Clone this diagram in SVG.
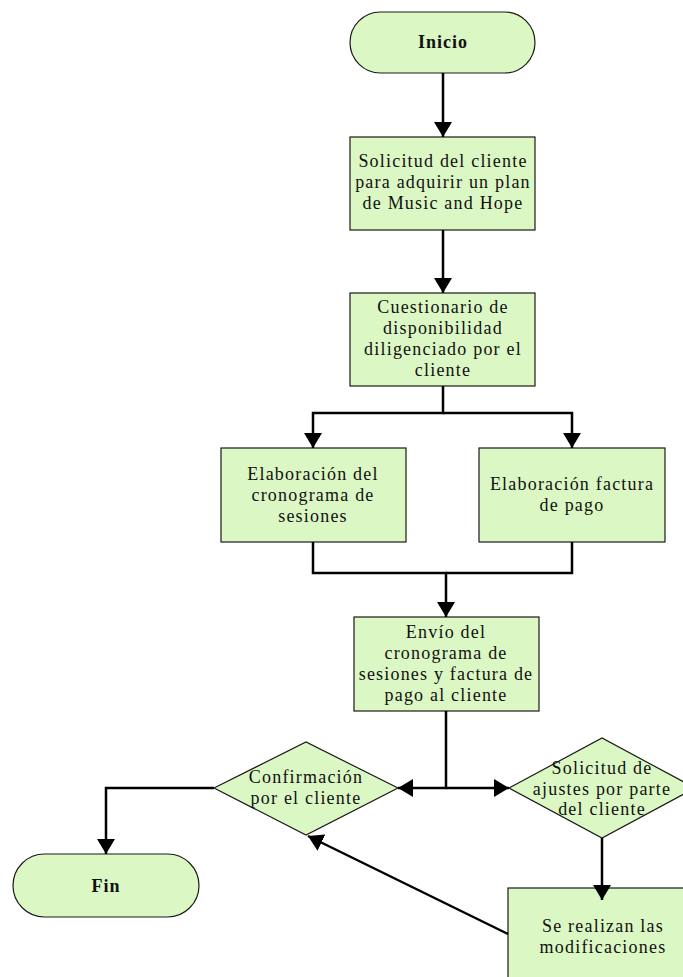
<svg xmlns="http://www.w3.org/2000/svg" width="683" height="977" viewBox="0 0 683 977">
<defs>
<marker id="ah" markerUnits="userSpaceOnUse" markerWidth="16" markerHeight="18" refX="15" refY="9" orient="auto">
<path d="M0,0 L15,9 L0,18 z" fill="#000"/>
</marker>
<style>
.shape{fill:#dbf7c4;stroke:#1a1a1a;stroke-width:1.2}
.t{font-size:18px;fill:#111;text-anchor:middle;letter-spacing:1.2px}
.b{font-weight:bold;letter-spacing:1px}
.c{fill:none;stroke:#000;stroke-width:2.5}
.a{marker-end:url(#ah)}
</style>
</defs>
<rect width="683" height="977" fill="#fff"/>
<g font-family="Liberation Serif, DejaVu Serif, serif">
<g id="inicio">
<rect class="shape" x="350" y="12" width="185" height="61" rx="30.5"/>
<text class="t b" x="443" y="48">Inicio</text>
</g>
<g id="solicitud">
<rect class="shape" x="350" y="137" width="185" height="93"/>
<text class="t" x="443" y="167">Solicitud del cliente</text>
<text class="t" x="443" y="188">para adquirir un plan</text>
<text class="t" x="443" y="209">de Music and Hope</text>
</g>
<g id="cuestionario">
<rect class="shape" x="350" y="293" width="185" height="93"/>
<text class="t" x="443" y="313">Cuestionario de</text>
<text class="t" x="443" y="334">disponibilidad</text>
<text class="t" x="443" y="355">diligenciado por el</text>
<text class="t" x="443" y="376">cliente</text>
</g>
<g id="cronograma">
<rect class="shape" x="221" y="448" width="185" height="94"/>
<text class="t" x="313" y="480">Elaboración del</text>
<text class="t" x="313" y="501">cronograma de</text>
<text class="t" x="313" y="522">sesiones</text>
</g>
<g id="factura">
<rect class="shape" x="479" y="448" width="186" height="94"/>
<text class="t" x="572" y="490">Elaboración factura</text>
<text class="t" x="572" y="511">de pago</text>
</g>
<g id="envio">
<rect class="shape" x="354" y="617" width="185" height="94"/>
<text class="t" x="446" y="638">Envío del</text>
<text class="t" x="446" y="659">cronograma de</text>
<text class="t" x="446" y="680">sesiones y factura de</text>
<text class="t" x="446" y="701">pago al cliente</text>
</g>
<g id="confirmacion">
<polygon class="shape" points="214,788 306,742 398,788 306,835"/>
<text class="t" x="306" y="783">Confirmación</text>
<text class="t" x="306" y="804">por el cliente</text>
</g>
<g id="ajustes">
<polygon class="shape" points="509,788 602,738 695,788 602,838"/>
<text class="t" x="602" y="774">Solicitud de</text>
<text class="t" x="602" y="795">ajustes por parte</text>
<text class="t" x="602" y="815">del cliente</text>
</g>
<g id="fin">
<rect class="shape" x="13" y="854" width="186" height="63" rx="31.5"/>
<text class="t b" x="106" y="892">Fin</text>
</g>
<g id="modificaciones">
<rect class="shape" x="508" y="888" width="186" height="95"/>
<text class="t" x="603" y="932">Se realizan las</text>
<text class="t" x="603" y="953">modificaciones</text>
</g>
</g>
<g id="connectors">
<path class="c a" d="M443,73 V137"/>
<path class="c a" d="M443,230 V293"/>
<path class="c a" d="M443,386 V413 H313 V448"/>
<path class="c a" d="M443,413 H572 V448"/>
<path class="c a" d="M313,542 V573 H446 V617"/>
<path class="c" d="M572,542 V573 H446"/>
<path class="c a" d="M446,711 V788 H398"/>
<path class="c a" d="M446,788 H509"/>
<path class="c a" d="M214,788 H106 V854"/>
<path class="c a" d="M602,838 V900"/>
<path class="c a" d="M508,934 L308,836"/>
</g>
</svg>
